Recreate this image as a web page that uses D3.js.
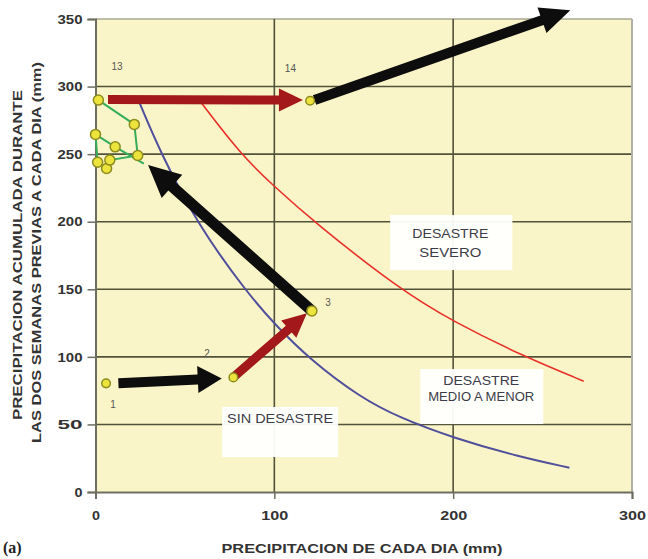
<!DOCTYPE html>
<html><head><meta charset="utf-8">
<script src="https://cdn.jsdelivr.net/npm/d3@7"></script>
<style>body{margin:0;background:#fff}svg{display:block}</style>
</head><body>
<svg id="c" width="648" height="559"></svg>
<script>
// ---- data ----
const xTicks = [0, 100, 200, 300];
const yTicks = [0, 50, 100, 150, 200, 250, 300, 350];

// threshold curves
const blueCurveX = [24, 36, 57, 85, 101, 120, 148, 170, 200, 237, 265];
const blueCurveY = [290, 252, 198, 147, 123, 98, 70, 55, 40, 26, 18];
const redCurveX  = [58, 81, 100, 122, 170, 200, 240, 273];
const redCurveY  = [290, 250, 226, 200, 150, 126, 100, 82];

// daily trajectory (days 4..13, green path)
const pathX = [27, 11, 0, 1.2, 6.2, 8, 23.6, 21.7, 1.6];
const pathY = [243, 255.4, 264.6, 244, 239.4, 245.6, 249, 272, 290];

// plotted day points
const pointX = [5.9, 77.1, 121, 11, 0, 1.2, 6.2, 8, 23.6, 21.7, 1.6, 120];
const pointY = [80.4, 84.8, 134, 255.4, 264.6, 244, 239.4, 245.6, 249, 272, 290, 289.5];

// arrows (from -> to), kind: 0 = black, 1 = dark red
const arrowFromX = [12.8, 78, 121, 7, 122.5];
const arrowFromY = [80.4, 86, 134, 290.4, 290];
const arrowToX   = [70.6, 118.2, 29.4, 116, 265.5];
const arrowToY   = [84, 132.2, 241.9, 290, 356.5];
const arrowKind  = [0, 1, 0, 1, 0];

// day labels
const labelText = ["1", "2", "3", "13", "14"];
const labelX = [9.8, 62.4, 130, 12, 109];
const labelY = [62, 100, 138, 312, 310.6];

// region annotations
const regionLines = [["DESASTRE", "SEVERO"], ["DESASTRE", "MEDIO A MENOR"], ["SIN DESASTRE"]];
const regionCX = [198.4, 215.7, 103.2];
const regionLineY = [[187.9, 173.8], [79.5, 67.0], [51.0]];
const regionBoxX0 = [164.8, 181.6, 70.8];
const regionBoxX1 = [233.1, 250.4, 135.7];
const regionBoxY0 = [204.9, 91.0, 62.9];
const regionBoxY1 = [164.2, 50.3, 25.9];

// ---- chart ----
const svg = d3.select("#c");
const L = 95.5, R = 632, T = 19, B = 492;
const x = d3.scaleLinear().domain([0, 300]).range([L, R]);
const y = d3.scaleLinear().domain([0, 350]).range([B, T]);

svg.append("rect").attr("x", L).attr("y", T).attr("width", R - L).attr("height", B - T)
  .attr("fill", "#faf5c8");

// grid
const g = svg.append("g");
g.selectAll(".hg").data(yTicks.filter(d => d > 0)).join("line")
  .attr("x1", L).attr("x2", R).attr("y1", d => y(d)).attr("y2", d => y(d))
  .attr("stroke", d => d === 350 ? "#a8a890" : "#52523a").attr("stroke-width", 1.6);
g.selectAll(".vg").data(xTicks.filter(d => d > 0 && d < 300)).join("line")
  .attr("x1", d => x(d)).attr("x2", d => x(d)).attr("y1", T).attr("y2", B)
  .attr("stroke", "#52523a").attr("stroke-width", 1.6);
svg.append("line").attr("x1", R).attr("x2", R).attr("y1", T).attr("y2", B)
  .attr("stroke", "#b0b0a8").attr("stroke-width", 2);

// axes
const yAxis = d3.axisLeft(y).tickValues(yTicks).tickSize(8).tickPadding(5);
const xAxis = d3.axisBottom(x).tickValues(xTicks).tickSize(7).tickPadding(12);
const ya = svg.append("g").attr("transform", `translate(${L},0)`).call(yAxis);
const xa = svg.append("g").attr("transform", `translate(0,${B})`).call(xAxis);
[ya, xa].forEach(a => {
  a.select(".domain").attr("stroke", "#6e6e60").attr("stroke-width", 2);
  a.selectAll(".tick line").attr("stroke", "#6e6e60").attr("stroke-width", 1.5);
  a.selectAll("text").attr("font-family", "Liberation Sans, Arial, sans-serif")
    .attr("font-weight", "bold").attr("font-size", 13).attr("fill", "#333");
});
ya.selectAll("text").attr("textLength", d => d === 0 ? 8 : 25).attr("lengthAdjust", "spacingAndGlyphs");
xa.selectAll("text").attr("textLength", d => d === 0 ? 8 : 27).attr("lengthAdjust", "spacingAndGlyphs");

// curves
const line = d3.line().x(d => x(d[0])).y(d => y(d[1])).curve(d3.curveBasis);
svg.append("path").attr("d", line(blueCurveX.map((v, i) => [v, blueCurveY[i]])))
  .attr("fill", "none").attr("stroke", "#4f4f9c").attr("stroke-width", 2);
svg.append("path").attr("d", line(redCurveX.map((v, i) => [v, redCurveY[i]])))
  .attr("fill", "none").attr("stroke", "#e83028").attr("stroke-width", 1.6);

// region boxes & text
regionLines.forEach((lines, i) => {
  svg.append("rect").attr("x", x(regionBoxX0[i])).attr("y", y(regionBoxY0[i]))
    .attr("width", x(regionBoxX1[i]) - x(regionBoxX0[i]))
    .attr("height", y(regionBoxY1[i]) - y(regionBoxY0[i]))
    .attr("fill", "#ffffff").attr("opacity", 0.95);
  lines.forEach((t, j) => {
    const widths = {"DESASTRE": 76, "SEVERO": 62, "MEDIO A MENOR": 106, "SIN DESASTRE": 106};
    svg.append("text").attr("x", x(regionCX[i])).attr("y", y(regionLineY[i][j]))
      .attr("text-anchor", "middle").attr("font-family", "Liberation Sans, Arial, sans-serif")
      .attr("font-size", 13).attr("fill", "#3c3c48")
      .attr("textLength", widths[t]).attr("lengthAdjust", "spacingAndGlyphs").text(t);
  });
});

// green trajectory
svg.append("path").attr("d", d3.line().x(d => x(d[0])).y(d => y(d[1]))(pathX.map((v, i) => [v, pathY[i]])))
  .attr("fill", "none").attr("stroke", "#34ad5c").attr("stroke-width", 2);

// arrows
const arrowStyle = [
  {fill: "#0d0d0d", w: 10, hl: 24, hw: 27},
  {fill: "#a3191b", w: 9, hl: 24, hw: 23}
];
function arrowPoly(x0, y0, x1, y1, s) {
  const dx = x1 - x0, dy = y1 - y0, len = Math.hypot(dx, dy);
  const ux = dx / len, uy = dy / len, nx = -uy, ny = ux;
  const bx = x1 - ux * s.hl, by = y1 - uy * s.hl;
  const p = [
    [x0 + nx * s.w / 2, y0 + ny * s.w / 2],
    [bx + nx * s.w / 2, by + ny * s.w / 2],
    [bx + nx * s.hw / 2, by + ny * s.hw / 2],
    [x1, y1],
    [bx - nx * s.hw / 2, by - ny * s.hw / 2],
    [bx - nx * s.w / 2, by - ny * s.w / 2],
    [x0 - nx * s.w / 2, y0 - ny * s.w / 2]
  ];
  return p.map(q => q.join(",")).join(" ");
}
arrowFromX.forEach((_, i) => {
  let s = Object.assign({}, arrowStyle[arrowKind[i]]);
  if (i === 2) { s.w = 11; s.hl = 32; s.hw = 31; }
  if (i === 4) { s.hl = 30; s.hw = 27; }
  svg.append("polygon")
    .attr("points", arrowPoly(x(arrowFromX[i]), y(arrowFromY[i]), x(arrowToX[i]), y(arrowToY[i]), s))
    .attr("fill", s.fill);
});

// points
svg.selectAll(".pt").data(pointX.map((v, i) => [v, pointY[i], i])).join("circle")
  .attr("cx", d => x(d[0])).attr("cy", d => y(d[1]))
  .attr("r", d => (d[2] === 0 || d[2] === 1 || d[2] === 11) ? 4.3 : 5)
  .attr("fill", "#ece43c").attr("stroke", "#8c8c1e").attr("stroke-width", 1.5);

// day labels
labelText.forEach((t, i) => {
  svg.append("text").attr("x", x(labelX[i])).attr("y", y(labelY[i]))
    .attr("text-anchor", "middle").attr("font-family", "Liberation Sans, Arial, sans-serif")
    .attr("font-size", 10).attr("fill", "#555").text(t);
});

// axis titles
const tf = "Liberation Sans, Arial, sans-serif";
svg.append("text").attr("x", 362).attr("y", 553).attr("text-anchor", "middle")
  .attr("font-family", tf).attr("font-weight", "bold").attr("font-size", 13).attr("fill", "#333")
  .attr("textLength", 281).attr("lengthAdjust", "spacingAndGlyphs")
  .text("PRECIPITACION DE CADA DIA (mm)");
svg.append("text").attr("transform", "translate(22,255) rotate(-90)").attr("text-anchor", "middle")
  .attr("font-family", tf).attr("font-weight", "bold").attr("font-size", 13).attr("fill", "#333")
  .attr("textLength", 330).attr("lengthAdjust", "spacingAndGlyphs")
  .text("PRECIPITACION ACUMULADA DURANTE");
svg.append("text").attr("transform", "translate(41,252.5) rotate(-90)").attr("text-anchor", "middle")
  .attr("font-family", tf).attr("font-weight", "bold").attr("font-size", 13).attr("fill", "#333")
  .attr("textLength", 381).attr("lengthAdjust", "spacingAndGlyphs")
  .text("LAS DOS SEMANAS PREVIAS A CADA DIA (mm)");
svg.append("text").attr("x", 3).attr("y", 553)
  .attr("font-family", "Liberation Serif, serif").attr("font-weight", "bold").attr("font-size", 16)
  .attr("fill", "#222").text("(a)");
</script>
</body></html>
